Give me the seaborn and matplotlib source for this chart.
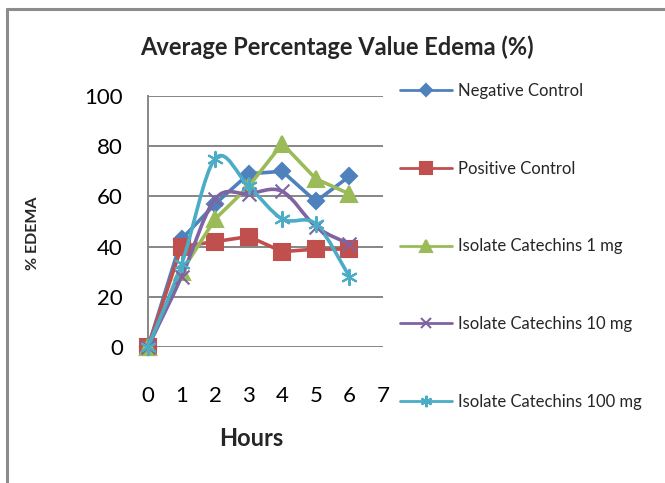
import numpy as np
import pandas as pd
import matplotlib
matplotlib.use("Agg")
import matplotlib.pyplot as plt
from matplotlib.path import Path
from matplotlib.patches import PathPatch
from matplotlib.lines import Line2D
import seaborn as sns

# --- data ---
hours = [0, 1, 2, 3, 4, 5, 6]
negative_control = [0, 43, 57, 69, 70, 58, 68]
positive_control = [0, 40, 42, 44, 38, 39, 39]
catechins_1mg = [0, 30, 51, 64, 81, 67, 61]
catechins_10mg = [0, 28, 59, 61, 62, 48, 41]
catechins_100mg = [0, 33, 75, 64, 51, 49, 28]

series_names = ["Negative Control", "Positive Control", "Isolate Catechins 1 mg",
                "Isolate Catechins 10 mg", "Isolate Catechins 100 mg"]
series_values = [negative_control, positive_control, catechins_1mg,
                 catechins_10mg, catechins_100mg]
colors = ["#4F81BD", "#C0504D", "#9BBB59", "#8064A2", "#4BACC6"]
markers = ["D", "s", "^", "x", (6, 2, 0)]
msizes = [8, 11, 12, 10, 11]
smooth = [False, False, False, True, True]

df = pd.DataFrame({
    "Hours": np.tile(hours, len(series_names)),
    "Edema": np.concatenate(series_values),
    "Series": np.repeat(series_names, len(hours)),
})

sns.set_style("white")
plt.rcParams["font.family"] = ["Lato", "DejaVu Sans"]

fig = plt.figure(figsize=(6.65, 4.83), dpi=100)
ax = fig.add_axes([148 / 665, 1 - 347 / 483, (383 - 148) / 665, (347 - 96) / 483])


def smooth_path(xs, ys):
    # Excel-style smoothed line: Catmull-Rom spline as cubic Bezier segments
    pts = np.column_stack([xs, ys]).astype(float)
    verts = [pts[0]]
    codes = [Path.MOVETO]
    n = len(pts)
    for i in range(n - 1):
        p0 = pts[max(i - 1, 0)]
        p1 = pts[i]
        p2 = pts[i + 1]
        p3 = pts[min(i + 2, n - 1)]
        c1 = p1 + (p2 - p0) / 6
        c2 = p2 - (p3 - p1) / 6
        verts += [c1, c2, p2]
        codes += [Path.CURVE4] * 3
    return Path(verts, codes)


handles = []
for name, vals, col, mk, ms, sm in zip(series_names, series_values, colors,
                                       markers, msizes, smooth):
    sub = df[df["Series"] == name]
    if sm:
        patch = PathPatch(smooth_path(hours, vals), facecolor="none", edgecolor=col,
                          lw=2.6, clip_on=False, zorder=3)
        ax.add_patch(patch)
        sns.scatterplot(data=sub, x="Hours", y="Edema", ax=ax, marker=mk, s=ms ** 2,
                        color=col, edgecolor=col, linewidth=1.5, clip_on=False,
                        zorder=4, legend=False)
    else:
        sns.lineplot(data=sub, x="Hours", y="Edema", ax=ax, color=col, lw=2.6,
                     marker=mk, markersize=ms, markeredgecolor=col, mew=1.5,
                     clip_on=False, zorder=3, legend=False)
    handles.append(Line2D([0], [0], color=col, lw=2, marker=mk,
                          markersize=ms * 0.75, markeredgecolor=col, mew=1.5))

ax.set_xlim(0, 7)
ax.set_ylim(0, 100)
ax.set_xticks(range(0, 8))
ax.set_yticks(range(0, 101, 20))
ax.set_xlabel("")
ax.set_ylabel("")
ax.tick_params(axis="both", length=0, labelsize=16, colors="black")
ax.tick_params(axis="y", pad=18)
ax.tick_params(axis="x", pad=28)
ax.yaxis.grid(True, color="#868686", lw=1.4)
ax.xaxis.grid(False)
for side in ["top", "right", "bottom"]:
    ax.spines[side].set_visible(False)
ax.spines["left"].set_color("#868686")
ax.spines["left"].set_linewidth(1.4)

fig.text(0.507, 1 - 47 / 483, "Average Percentage Value Edema (%)", ha="center",
         va="center", fontsize=17, fontweight="bold")
fig.text(33 / 665, 1 - 233 / 483, "% EDEMA", rotation=90, ha="center", va="center",
         fontsize=11.5, fontweight="bold")
fig.text(251 / 665, 1 - 438 / 483, "Hours", ha="center", va="center",
         fontsize=17, fontweight="bold")

fig.legend(handles, series_names, loc="upper left",
           bbox_to_anchor=(400 / 665, 1 - 83 / 483), frameon=False, fontsize=12,
           labelspacing=3.7, handlelength=3.1, handletextpad=0.4, borderpad=0,
           borderaxespad=0)

# chart-area frame (cut off at right and bottom in the reference)
fig.add_artist(Line2D([7 / 665, 7 / 665], [0, 1 - 9 / 483], color="#8C8C8C", lw=2.2,
                      transform=fig.transFigure))
fig.add_artist(Line2D([7 / 665, 1], [1 - 9 / 483, 1 - 9 / 483], color="#8C8C8C",
                      lw=2.2, transform=fig.transFigure))

fig.savefig("out.png", dpi=100, facecolor="white")
